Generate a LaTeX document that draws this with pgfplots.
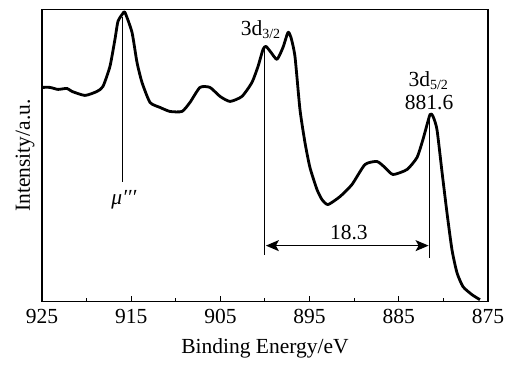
\documentclass[border=0pt]{standalone}
\usepackage{fontspec}
\setmainfont{Liberation Serif}
\usepackage{pgfplots}
\pgfplotsset{compat=1.18}
\usetikzlibrary{arrows.meta}
\newcommand{\sub}[1]{\raisebox{-3.5pt}{\fontsize{14}{14}\selectfont #1}}
\begin{document}
\fontsize{21.5}{25}\selectfont
\begin{tikzpicture}
\useasboundingbox (-42pt,-66.3pt) rectangle (473pt,301.7pt);
\begin{axis}[
 scale only axis, width=446pt, height=292.4pt,
 x dir=reverse, xmin=875, xmax=925, ymin=0, ymax=292,
 xtick={875,885,...,925}, minor xtick={880,890,...,920},
 ytick=\empty,
 tick pos=left,
 tick align=inside,
 major tick length=6pt, minor tick length=4pt,
 axis line style={line width=1.1pt},
 every tick/.style={line width=1pt, black},
 /pgf/number format/assume math mode=true,
 ticklabel style={font=\fontsize{21.5}{25}\selectfont},
 label style={font=\fontsize{21.5}{25}\selectfont},
 xlabel={Binding Energy/eV}, ylabel={Intensity/a.u.},
 clip=false,
]
\addplot[black, line width=2.8pt, line join=round, smooth, tension=0.35] coordinates {
(925.0,214) (924.10,214) (923.21,212) (922.20,213) (921.64,210) (920.18,206)
(918.83,210) (918.16,215) (917.38,235) (916.82,262) (916.48,280) (915.92,288)
(915.70,289) (914.91,269) (914.35,239) (913.79,219) (912.89,199) (911.77,194)
(910.65,190) (909.30,190) (908.41,199) (907.29,214) (906.17,214) (905.04,205)
(903.92,200) (902.58,205) (901.46,219) (900.78,235) (900.22,252) (899.89,255)
(899.33,249) (898.65,242) (897.98,254) (897.42,269) (897.09,264) (896.64,245)
(896.08,192) (895.52,159) (894.96,134) (894.17,112) (893.61,102) (892.94,97)
(891.59,105) (890.25,117) (888.79,137) (887.44,140) (886.55,134) (885.65,127)
(884.08,132) (882.96,144) (882.29,162) (881.50,187) (881.16,185) (880.72,172)
(880.16,130) (879.60,89) (879.04,52) (878.48,29) (877.80,15) (876.79,7) (875.90,2)
};
\draw[line width=1pt] (axis cs:915.92,284) -- (axis cs:915.92,120);
\draw[line width=1pt] (axis cs:900.0,253) -- (axis cs:900.0,47);
\draw[line width=1.2pt] (axis cs:881.56,185) -- (axis cs:881.56,44);
\draw[line width=1.2pt, {Stealth[length=13pt,width=11pt,inset=3pt]}-{Stealth[length=13pt,width=11pt,inset=3pt]}]
  (axis cs:899.9,56) -- (axis cs:881.66,56);
\node at (axis cs:915.8,102) {\textit{μ′′′}};
\node[anchor=base] at (axis cs:900.5,266) {3d\sub{3/2}};
\node[anchor=base] at (axis cs:881.7,215) {3d\sub{5/2}};
\node[anchor=base] at (axis cs:881.6,191.5) {881.6};
\node[anchor=base] at (axis cs:890.6,62) {18.3};
\end{axis}
\end{tikzpicture}
\end{document}
